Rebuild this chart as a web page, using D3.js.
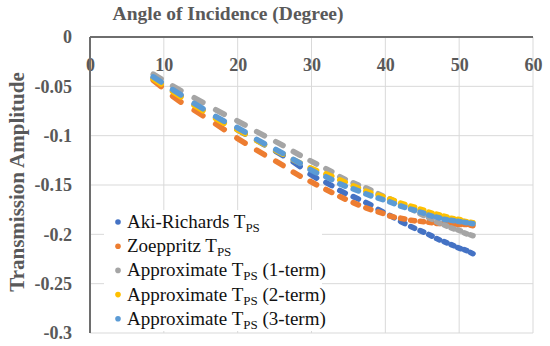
<!DOCTYPE html>
<html>
<head>
<meta charset="utf-8">
<script src="https://cdn.jsdelivr.net/npm/d3@7"></script>
<style>
  body { margin: 0; background: #fff; }
  svg { display: block; }
  .tick text { font-family: "Liberation Serif", serif; font-weight: bold; fill: #595959; }
</style>
</head>
<body>
<div class="chart"></div>
<script>
// incidence angle (degree) of each marker group
const angles = [9.1, 11.75, 14.7, 17.6, 20.45, 23.1, 25.65, 28.0, 30.25, 32.35, 34.2, 36.0, 37.7,
    39.35, 40.9, 42.35, 43.7, 44.95, 46.1, 47.15, 48.15, 49.1, 50.0, 50.85, 51.7];

const akiRichards = [-0.044, -0.057, -0.071, -0.084, -0.096, -0.107, -0.118, -0.129, -0.141, -0.149,
    -0.157, -0.163, -0.169, -0.176, -0.182, -0.188, -0.193, -0.197, -0.201, -0.205, -0.208, -0.211,
    -0.214, -0.216, -0.219];
const zoeppritz = [-0.047, -0.063, -0.077, -0.091, -0.105, -0.117, -0.128, -0.139, -0.148, -0.156,
    -0.163, -0.169, -0.174, -0.178, -0.182, -0.184, -0.186, -0.187, -0.188, -0.189, -0.189, -0.190,
    -0.190, -0.190, -0.191];
const approx1 = [-0.040, -0.052, -0.064, -0.076, -0.087, -0.098, -0.108, -0.118, -0.127, -0.135,
    -0.143, -0.149, -0.154, -0.160, -0.165, -0.170, -0.175, -0.180, -0.184, -0.188, -0.191, -0.194,
    -0.196, -0.199, -0.201];
const approx2 = [-0.045, -0.058, -0.072, -0.085, -0.096, -0.107, -0.117, -0.126, -0.134, -0.140,
    -0.146, -0.152, -0.157, -0.161, -0.165, -0.169, -0.172, -0.175, -0.178, -0.180, -0.182, -0.184,
    -0.185, -0.187, -0.188];
const approx3 = [-0.043, -0.056, -0.070, -0.083, -0.094, -0.106, -0.116, -0.126, -0.136, -0.143,
    -0.150, -0.155, -0.160, -0.164, -0.168, -0.172, -0.175, -0.178, -0.181, -0.183, -0.185, -0.186,
    -0.187, -0.188, -0.189];

const xTicks = [0, 10, 20, 30, 40, 50, 60];
const yTicks = [0, -0.05, -0.1, -0.15, -0.2, -0.25, -0.3];
const yTickLabels = ['0', '-0.05', '-0.1', '-0.15', '-0.2', '-0.25', '-0.3'];

const series = [
    { label: 'Aki-Richards T', tail: '', values: akiRichards, color: '#4472c4' },
    { label: 'Zoeppritz T', tail: '', values: zoeppritz, color: '#ed7d31' },
    { label: 'Approximate T', tail: ' (1-term)', values: approx1, color: '#a5a5a5' },
    { label: 'Approximate T', tail: ' (2-term)', values: approx2, color: '#ffc000' },
    { label: 'Approximate T', tail: ' (3-term)', values: approx3, color: '#5b9bd5' },
];

const w = 550;
const h = 346;
const plot = { left: 90, right: 533, top: 37, bottom: 333 };

const svg = d3.select('.chart').append('svg').attr('width', w).attr('height', h);

const x = d3.scaleLinear().domain([0, 60]).range([plot.left, plot.right]);
const y = d3.scaleLinear().domain([0, -0.3]).range([plot.top, plot.bottom]);

// gridlines
svg.append('g')
    .selectAll('line')
    .data(xTicks.slice(1))
    .join('line')
    .attr('x1', (d) => x(d))
    .attr('x2', (d) => x(d))
    .attr('y1', plot.top)
    .attr('y2', plot.bottom)
    .attr('stroke', '#d9d9d9')
    .attr('stroke-width', 1);

svg.append('g')
    .selectAll('line')
    .data(yTicks.slice(1))
    .join('line')
    .attr('x1', plot.left)
    .attr('x2', plot.right)
    .attr('y1', (d) => y(d))
    .attr('y2', (d) => y(d))
    .attr('stroke', '#d9d9d9')
    .attr('stroke-width', 1);

// axes: x labels sit under the zero line, inside the plot
const xAxis = svg.append('g')
    .attr('transform', `translate(0,${y(0)})`)
    .call(d3.axisBottom(x).tickValues(xTicks).tickSize(0).tickPadding(21));
xAxis.select('.domain').remove();
xAxis.selectAll('text').style('font-size', '18px');

const yAxis = svg.append('g')
    .attr('transform', `translate(${plot.left},0)`)
    .call(d3.axisLeft(y).tickValues(yTicks).tickSize(0).tickPadding(18)
        .tickFormat((d, i) => yTickLabels[i]));
yAxis.select('.domain').remove();
yAxis.selectAll('text').style('font-size', '18px');

svg.append('line')
    .attr('x1', x(0)).attr('x2', x(60))
    .attr('y1', y(0)).attr('y2', y(0))
    .attr('stroke', '#6e6e6e').attr('stroke-width', 2);
svg.append('line')
    .attr('x1', x(0)).attr('x2', x(0))
    .attr('y1', y(0)).attr('y2', y(-0.3))
    .attr('stroke', '#6e6e6e').attr('stroke-width', 2);

// titles
svg.append('text')
    .attr('x', 228)
    .attr('y', 20)
    .attr('text-anchor', 'middle')
    .style('font-family', '"Liberation Serif", serif')
    .style('font-weight', 'bold')
    .style('font-size', '19.5px')
    .attr('fill', '#595959')
    .text('Angle of Incidence (Degree)');

svg.append('text')
    .attr('transform', `translate(24,${182}) rotate(-90)`)
    .attr('text-anchor', 'middle')
    .style('font-family', '"Liberation Serif", serif')
    .style('font-weight', 'bold')
    .style('font-size', '21px')
    .attr('fill', '#595959')
    .text('Transmission Amplitude');

// markers sit in tight groups, so each group is drawn as a short capsule along the curve
function groups(values) {
    return angles.map((a, i) => {
        const i0 = Math.max(0, i - 1);
        const i1 = Math.min(angles.length - 1, i + 1);
        const slope = (values[i1] - values[i0]) / (angles[i1] - angles[i0]);
        const half = ((angles[i1] - angles[i0]) / (i1 - i0)) * 0.2;
        return { a0: a - half, v0: values[i] - slope * half, a1: a + half, v1: values[i] + slope * half };
    });
}

series.forEach((s) => {
    svg.append('g')
        .selectAll('line')
        .data(groups(s.values))
        .join('line')
        .attr('x1', (d) => x(d.a0))
        .attr('y1', (d) => y(d.v0))
        .attr('x2', (d) => x(d.a1))
        .attr('y2', (d) => y(d.v1))
        .attr('stroke', s.color)
        .attr('stroke-width', 5.6)
        .attr('stroke-linecap', 'round');
});

// legend
const legend = svg.append('g');
legend.append('rect')
    .attr('x', 104).attr('y', 210)
    .attr('width', 218).attr('height', 121)
    .attr('fill', '#fff');

const row = legend.selectAll('.legend')
    .data(series)
    .join('g')
    .attr('class', 'legend')
    .attr('transform', (d, i) => `translate(118,${228 + i * 24.2})`);

row.append('circle')
    .attr('cx', 0).attr('cy', -6)
    .attr('r', 2.8)
    .attr('fill', (d) => d.color);

const label = row.append('text')
    .attr('x', 9)
    .attr('y', 0)
    .style('font-family', '"Liberation Serif", serif')
    .style('font-size', '19px')
    .attr('fill', '#111');
label.append('tspan').text((d) => d.label);
label.append('tspan').attr('dy', 4).style('font-size', '13px').text('PS');
label.append('tspan').attr('dy', -4).text((d) => d.tail);
</script>
</body>
</html>
